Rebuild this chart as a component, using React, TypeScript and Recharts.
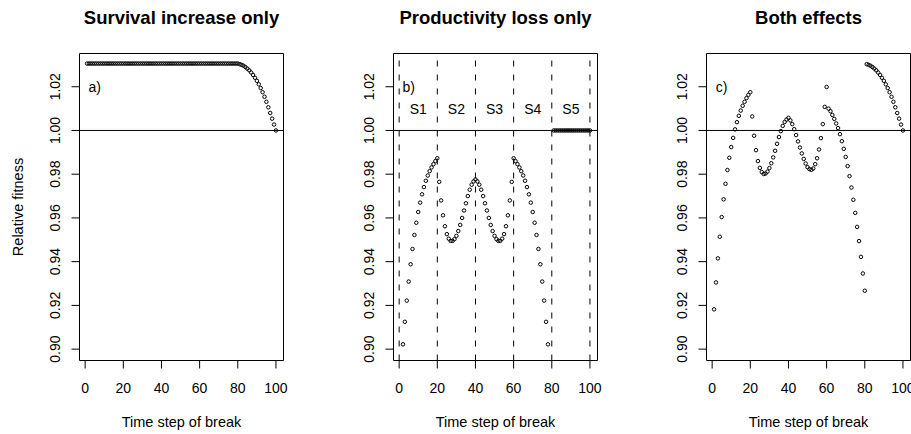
import React from 'react';
import { ScatterChart, Scatter, XAxis, YAxis, ReferenceLine, ReferenceArea } from 'recharts';

// Time step of break (index of each point)
const timeSteps: number[] = Array.from({ length: 100 }, (_, i) => i + 1);

// a) Survival increase only
const survivalOnly: (number | null)[] = [
  1.0306, 1.0306, 1.0306, 1.0306, 1.0306, 1.0306, 1.0306, 1.0306, 1.0306, 1.0306,
  1.0306, 1.0306, 1.0306, 1.0306, 1.0306, 1.0306, 1.0306, 1.0306, 1.0306, 1.0306,
  1.0306, 1.0306, 1.0306, 1.0306, 1.0306, 1.0306, 1.0306, 1.0306, 1.0306, 1.0306,
  1.0306, 1.0306, 1.0306, 1.0306, 1.0306, 1.0306, 1.0306, 1.0306, 1.0306, 1.0306,
  1.0306, 1.0306, 1.0306, 1.0306, 1.0306, 1.0306, 1.0306, 1.0306, 1.0306, 1.0306,
  1.0306, 1.0306, 1.0306, 1.0306, 1.0306, 1.0306, 1.0306, 1.0306, 1.0306, 1.0306,
  1.0306, 1.0306, 1.0306, 1.0306, 1.0306, 1.0306, 1.0306, 1.0306, 1.0306, 1.0306,
  1.0306, 1.0306, 1.0306, 1.0306, 1.0306, 1.0306, 1.0306, 1.0306, 1.0306, 1.0306,
  1.0303, 1.0300, 1.0296, 1.0290, 1.0283, 1.0275, 1.0265, 1.0254, 1.0241, 1.0227,
  1.0211, 1.0194, 1.0175, 1.0154, 1.0131, 1.0106, 1.0080, 1.0054, 1.0027, 1.0000,
];

// b) Productivity loss only (null = below the plotted range, not visible)
const productivityOnly: (number | null)[] = [
  null, 0.9022, 0.9125, 0.9222, 0.9309, 0.9388, 0.9458, 0.9522, 0.9578, 0.9627,
  0.9670, 0.9708, 0.9741, 0.9770, 0.9794, 0.9814, 0.9831, 0.9846, 0.9860, 0.9873,
  0.9765, 0.9680, 0.9612, 0.9562, 0.9526, 0.9505, 0.9495, 0.9495, 0.9503, 0.9518,
  0.9540, 0.9568, 0.9600, 0.9634, 0.9667, 0.9700, 0.9729, 0.9752, 0.9767, 0.9776,
  0.9767, 0.9752, 0.9729, 0.9700, 0.9667, 0.9634, 0.9600, 0.9568, 0.9540, 0.9518,
  0.9503, 0.9495, 0.9495, 0.9505, 0.9526, 0.9562, 0.9612, 0.9680, 0.9765, 0.9873,
  0.9860, 0.9846, 0.9831, 0.9814, 0.9794, 0.9770, 0.9741, 0.9708, 0.9670, 0.9627,
  0.9578, 0.9522, 0.9458, 0.9388, 0.9309, 0.9222, 0.9125, 0.9022, null, null,
  1.0000, 1.0000, 1.0000, 1.0000, 1.0000, 1.0000, 1.0000, 1.0000, 1.0000, 1.0000,
  1.0000, 1.0000, 1.0000, 1.0000, 1.0000, 1.0000, 1.0000, 1.0000, 1.0000, 1.0000,
];

// c) Both effects
const bothEffects: (number | null)[] = [
  0.9182, 0.9305, 0.9415, 0.9514, 0.9604, 0.9685, 0.9756, 0.9819, 0.9875, 0.9924,
  0.9966, 1.0005, 1.0038, 1.0067, 1.0091, 1.0113, 1.0131, 1.0148, 1.0163, 1.0175,
  1.0064, 0.9976, 0.9910, 0.9860, 0.9829, 0.9810, 0.9801, 0.9803, 0.9812, 0.9828,
  0.9850, 0.9877, 0.9907, 0.9939, 0.9970, 0.9997, 1.0021, 1.0039, 1.0050, 1.0058,
  1.0046, 1.0029, 1.0006, 0.9979, 0.9950, 0.9922, 0.9895, 0.9870, 0.9849, 0.9832,
  0.9823, 0.9820, 0.9826, 0.9846, 0.9873, 0.9913, 0.9965, 1.0029, 1.0108, 1.0199,
  1.0100, 1.0088, 1.0071, 1.0053, 1.0032, 1.0011, 0.9983, 0.9951, 0.9916, 0.9879,
  0.9837, 0.9791, 0.9739, 0.9683, 0.9623, 0.9559, 0.9494, 0.9422, 0.9346, 0.9267,
  1.0303, 1.0300, 1.0296, 1.0290, 1.0283, 1.0275, 1.0265, 1.0254, 1.0241, 1.0227,
  1.0211, 1.0194, 1.0175, 1.0154, 1.0131, 1.0106, 1.0080, 1.0054, 1.0027, 1.0000,
];

const xTicks = [0, 20, 40, 60, 80, 100];
const yTicks = [0.9, 0.92, 0.94, 0.96, 0.98, 1.0, 1.02];
const stageBreaks = [0, 20, 40, 60, 80, 100];
const stageLabels = ['S1', 'S2', 'S3', 'S4', 'S5'];
const stageLabelX = [10, 30, 50, 70, 90];
const stageLabelY = 1.01;
const panelTitles = ['Survival increase only', 'Productivity loss only', 'Both effects'];
const panelLetters = ['a)', 'b)', 'c)'];
const letterX = 5;
const letterY = 1.02;
const referenceFitness = 1;

const X_DOMAIN: [number, number] = [-2.96, 103.96];
const Y_DOMAIN: [number, number] = [0.8948, 1.0352];

const FONT = '"Liberation Sans", Arial, Helvetica, sans-serif';
const W = 911;
const H = 434;
const PLOT_TOP = 53.5;
const PLOT_BOTTOM = 360.5;
const PLOT_W = 204;
const PANEL_LEFTS = [79.5, 393.5, 706.5];
const Y_AXIS_W = 60;
const X_AXIS_H = 50;

const toPoints = (vals: (number | null)[]) =>
  timeSteps
    .map((t, i) => ({ x: t, y: vals[i] }))
    .filter((p) => p.y !== null && p.y !== undefined) as { x: number; y: number }[];

const OpenCircle = (props: any) => {
  const { cx, cy } = props;
  if (cx == null || cy == null || isNaN(cx) || isNaN(cy)) return <g />;
  return <circle cx={cx} cy={cy} r={1.75} fill="none" stroke="#000" strokeWidth={1} />;
};

const TextMark = (props: any) => {
  const { cx, cy, payload } = props;
  if (cx == null || cy == null) return <g />;
  return (
    <text x={cx} y={cy + 5} textAnchor="middle" fontSize={14} fontFamily={FONT} fill="#000">
      {payload.label}
    </text>
  );
};

const XTick = (props: any) => {
  const { x, y, payload } = props;
  return (
    <text x={x} y={y + 22.6} textAnchor="middle" fontSize={14} fontFamily={FONT} fill="#000">
      {payload.value}
    </text>
  );
};

const YTick = (props: any) => {
  const { x, y, payload } = props;
  const bx = x - 9.5;
  return (
    <text
      x={bx}
      y={y}
      transform={`rotate(-90 ${bx} ${y})`}
      textAnchor="middle"
      fontSize={14}
      fontFamily={FONT}
      fill="#000"
    >
      {Number(payload.value).toFixed(2)}
    </text>
  );
};

type PanelProps = {
  values: (number | null)[];
  index: number;
  showStages: boolean;
};

const Panel = ({ values, index, showStages }: PanelProps) => {
  const plotLeft = PANEL_LEFTS[index];
  const plotRight = plotLeft + PLOT_W;
  const points = toPoints(values);
  const labels: { x: number; y: number; label: string }[] = [
    { x: letterX, y: letterY, label: panelLetters[index] },
  ];
  if (showStages) {
    stageLabels.forEach((s, i) => labels.push({ x: stageLabelX[i], y: stageLabelY, label: s }));
  }
  return (
    <ScatterChart
      width={W}
      height={H}
      margin={{
        top: PLOT_TOP,
        bottom: H - PLOT_BOTTOM - X_AXIS_H,
        left: plotLeft - Y_AXIS_W,
        right: W - plotRight,
      }}
      style={{ position: 'absolute', left: 0, top: 0 }}
    >
      <XAxis
        type="number"
        dataKey="x"
        domain={X_DOMAIN}
        ticks={xTicks}
        allowDataOverflow
        axisLine={false}
        stroke="#000"
        tickSize={8}
        tickMargin={2}
        height={X_AXIS_H}
        interval={0}
        tick={<XTick />}
      />
      <YAxis
        type="number"
        dataKey="y"
        domain={Y_DOMAIN}
        ticks={yTicks}
        allowDataOverflow
        axisLine={false}
        stroke="#000"
        tickSize={8}
        tickMargin={2}
        width={Y_AXIS_W}
        interval={0}
        tick={<YTick />}
      />
      <ReferenceArea
        x1={X_DOMAIN[0]}
        x2={X_DOMAIN[1]}
        y1={Y_DOMAIN[0]}
        y2={Y_DOMAIN[1]}
        fill="none"
        fillOpacity={0}
        stroke="#000"
        strokeWidth={1}
        ifOverflow="visible"
      />
      <ReferenceLine y={referenceFitness} stroke="#000" strokeWidth={1} />
      {showStages &&
        stageBreaks.map((b) => (
          <ReferenceLine key={b} x={b} stroke="#000" strokeWidth={1} strokeDasharray="6 8" />
        ))}
      <Scatter data={points} shape={OpenCircle} isAnimationActive={false} />
      <Scatter data={labels} shape={TextMark} isAnimationActive={false} />
    </ScatterChart>
  );
};

export default function App() {
  const centers = PANEL_LEFTS.map((l) => l + PLOT_W / 2);
  const midY = (PLOT_TOP + PLOT_BOTTOM) / 2;
  return (
    <div style={{ position: 'absolute', left: 0, top: 0, width: W, height: H, background: '#fff', overflow: 'hidden' }}>
      <Panel values={survivalOnly} index={0} showStages={false} />
      <Panel values={productivityOnly} index={1} showStages={true} />
      <Panel values={bothEffects} index={2} showStages={false} />
      <svg width={W} height={H} style={{ position: 'absolute', left: 0, top: 0, pointerEvents: 'none' }}>
        {panelTitles.map((t, i) => (
          <text
            key={t}
            x={centers[i]}
            y={24}
            textAnchor="middle"
            fontSize={18.5}
            fontWeight="bold"
            fontFamily={FONT}
            fill="#000"
          >
            {t}
          </text>
        ))}
        {centers.map((c, i) => (
          <text key={i} x={c} y={427.3} textAnchor="middle" fontSize={14.5} fontFamily={FONT} fill="#000">
            Time step of break
          </text>
        ))}
        <text
          x={23.3}
          y={midY}
          transform={`rotate(-90 23.3 ${midY})`}
          textAnchor="middle"
          fontSize={14.5}
          fontFamily={FONT}
          fill="#000"
        >
          Relative fitness
        </text>
      </svg>
    </div>
  );
}
